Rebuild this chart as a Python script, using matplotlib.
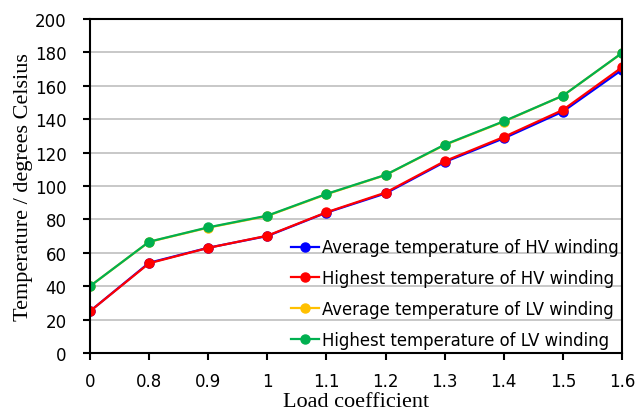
import matplotlib
matplotlib.use('Agg')
import matplotlib.pyplot as plt

# load coefficient categories (evenly spaced on the chart)
load_coef = ['0', '0.8', '0.9', '1', '1.1', '1.2', '1.3', '1.4', '1.5', '1.6']

avg_hv = [25, 54, 63, 70, 84, 95.5, 114.3, 128.5, 144.5, 169.5]
max_hv = [25, 53.7, 62.9, 70.2, 84.2, 96, 114.8, 129.3, 145.5, 171]
avg_lv = [40, 66.5, 75, 82, 95, 106.5, 124.5, 138.5, 154, 179.5]
max_lv = [40, 66.6, 75.2, 82.2, 95.2, 106.6, 124.7, 138.7, 154, 179.6]

labels = ['Average temperature of HV winding',
          'Highest temperature of HV winding',
          'Average temperature of LV winding',
          'Highest temperature of LV winding']
colors = ['#0000FF', '#FF0000', '#FFC000', '#00B050']

fig = plt.figure(figsize=(6.36, 4.14), dpi=100)
ax = fig.add_axes([0.1415, 0.145, 0.8365, 0.807])

x = list(range(len(load_coef)))
for ys, lab, c in zip([avg_hv, max_hv, avg_lv, max_lv], labels, colors):
    ax.plot(x, ys, color=c, lw=1.6, marker='o', ms=6.5, label=lab)

ax.set_xlim(0, len(load_coef) - 1)
ax.set_ylim(0, 200)
ax.set_xticks(x)
ax.set_xticklabels(load_coef)
ax.set_yticks(range(0, 201, 20))
ax.yaxis.grid(True, color='#BFBFBF', lw=1.2)
ax.set_axisbelow(True)
ax.tick_params(labelsize=12, length=5, width=1.5, direction='out')
ax.tick_params(axis='y', pad=12)
ax.tick_params(axis='x', pad=9)
for s in ax.spines.values():
    s.set_linewidth(1.5)

ax.set_xlabel('Load coefficient', family='Liberation Serif', fontsize=16, labelpad=1)
ax.set_ylabel('Temperature / degrees Celsius', family='Liberation Serif', fontsize=16, labelpad=1)

ax.legend(loc='lower right', bbox_to_anchor=(1.012, -0.018), frameon=False,
          fontsize=11.9, handlelength=1.7, handletextpad=0.15,
          labelspacing=0.78, borderaxespad=0.2)

plt.savefig('out.png', dpi=100)
